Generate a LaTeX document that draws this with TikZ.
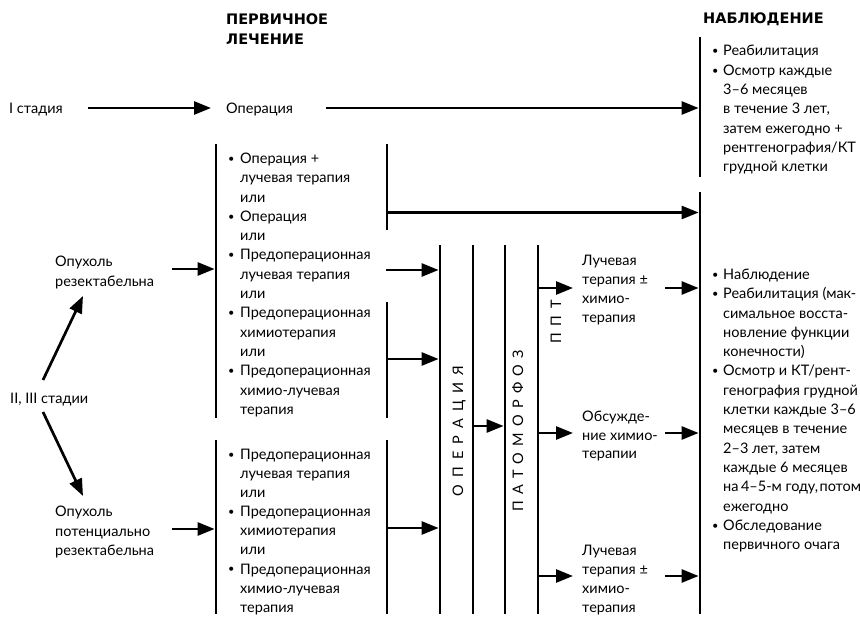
\documentclass[tikz,border=0pt]{standalone}
\usepackage{fontspec}
\setmainfont{Lato}
\newfontfamily\hdfont{DejaVu Sans}
\usetikzlibrary{arrows.meta}
\newcommand\blk[1]{\begin{tabular}[t]{@{}l@{}}#1\end{tabular}}
\newcommand\blist[1]{\begin{tabular}[t]{@{}p{12pt}@{}l@{}}#1\end{tabular}}
\newcommand\rlist[1]{\begin{tabular}[t]{@{}p{11pt}@{}l@{}}#1\end{tabular}}
\newcommand\bul{\raisebox{1.2pt}{\fontsize{11}{11}\selectfont •}}
\newcommand\lsp{\hspace{7pt}}
\newcommand\lspb{\hspace{6.2pt}}
\begin{document}
\begin{tikzpicture}[x=1pt,y=-1pt,
  conn/.style={line width=2.7pt,-{Triangle[length=17pt,width=13pt]}},
  bar/.style={line width=2.7pt,line cap=butt},
  txt/.style={anchor=base west,inner sep=0pt,font=\fontsize{14.5}{19.3}\selectfont},
  hdr/.style={anchor=base west,inner sep=0pt,font=\hdfont\bfseries\fontsize{14.5}{20}\selectfont},
  vlab/.style={anchor=base,rotate=90,inner sep=0pt,font=\fontsize{14.5}{18}\selectfont}]
\useasboundingbox (0,0) rectangle (860,617);
% headers
\node[hdr] (h1) at (226,25) {\blk{ПЕРВИЧНОЕ\\ЛЕЧЕНИЕ}};
\node[hdr] (h2) at (703,24) {НАБЛЮДЕНИЕ};
% left texts
\node[txt] (s1) at (9,114) {I стадия};
\node[txt] (op) at (226,114) {Операция};
\node[txt] (res) at (55,267) {\blk{Опухоль\\резектабельна}};
\node[txt] (s23) at (10,403.5) {II, III стадии};
\node[txt] (pot) at (55,517) {\blk{Опухоль\\потенциально\\резектабельна}};
% primary treatment lists
\node[txt] (L1) at (228,163.5) {\blist{\bul&Операция +\\&лучевая терапия\\&или\\\bul&Операция\\&или\\\bul&Предоперационная\\&лучевая терапия\\&или\\\bul&Предоперационная\\&химиотерапия\\&или\\\bul&Предоперационная\\&химио-лучевая\\&терапия}};
\node[txt,font=\fontsize{14.5}{19.1}\selectfont] (L2) at (228,459.5) {\blist{\bul&Предоперационная\\&лучевая терапия\\&или\\\bul&Предоперационная\\&химиотерапия\\&или\\\bul&Предоперационная\\&химио-лучевая\\&терапия}};
% middle texts
\node[txt,font=\fontsize{14.5}{19}\selectfont] (m1) at (582,265.5) {\blk{Лучевая\\терапия ±\\химио-\\терапия}};
\node[txt,font=\fontsize{14.5}{18.5}\selectfont] (m2) at (582,422) {\blk{Обсужде-\\ние химио-\\терапии}};
\node[txt,font=\fontsize{14.5}{19}\selectfont] (m3) at (582,555.5) {\blk{Лучевая\\терапия ±\\химио-\\терапия}};
% rotated labels
\node[vlab] (opv) at (463,431) {О\lsp П\lsp Е\lsp Р\lsp А\lsp Ц\lsp И\lsp Я};
\node[vlab] (pat) at (523,431) {П\lspb А\lspb Т\lspb О\lspb М\lspb О\lspb Р\lspb Ф\lspb О\lspb З};
\node[vlab] (ppt) at (561,322) {П\lsp П\lsp Т};
% follow-up lists
\node[txt] (R1) at (712,56) {\rlist{\bul&Реабилитация\\\bul&Осмотр каждые\\&3–6 месяцев\\&в течение 3 лет,\\&затем ежегодно +\\&рентгенография/КТ\\&грудной клетки}};
\node[txt] (R2) at (712,279.5) {\rlist{\bul&Наблюдение\\\bul&Реабилитация (мак-\\&симальное восста-\\&новление функции\\&конечности)\\\bul&Осмотр и КТ/рент-\\&генография грудной\\&клетки каждые 3–6\\&месяцев в течение\\&2–3 лет, затем\\&каждые 6 месяцев\\&на\hspace{2.5pt}4–5-м году,\hspace{1.5pt}потом\\&ежегодно\\\bul&Обследование\\&первичного очага}};
% bar coordinates
\coordinate (b1t) at (216,144); \coordinate (b1b) at (216,418);
\coordinate (b1c) at (216,440); \coordinate (b1d) at (216,614);
\coordinate (b2t) at (387,144); \coordinate (b2u) at (387,230);
\coordinate (b2v) at (387,302); \coordinate (b2w) at (387,418);
\coordinate (b2x) at (387,440); \coordinate (b2y) at (387,614);
\coordinate (b3t) at (440,245); \coordinate (b3b) at (440,614);
\coordinate (b4t) at (473,245); \coordinate (b4b) at (473,614);
\coordinate (b5t) at (505,245); \coordinate (b5b) at (505,614);
\coordinate (b6t) at (538,245); \coordinate (b6b) at (538,614);
\coordinate (b7t) at (700,37); \coordinate (b7u) at (700,177);
\coordinate (b7v) at (700,192); \coordinate (b7b) at (700,614);
\foreach \p/\q in {b1t/b1b,b1c/b1d,b2t/b2u,b2v/b2w,b2x/b2y,b3t/b3b,b4t/b4b,b5t/b5b,b6t/b6b,b7t/b7u,b7v/b7b}
  \draw[bar] (\p) -- (\q);
% arrow coordinates
\coordinate (a1s) at (88,108);   \coordinate (a1e) at (211,108);
\coordinate (a2s) at (326,108);  \coordinate (a2e) at (698.6,108);
\coordinate (a3s) at (387,212.5);\coordinate (a3e) at (698.6,212.5);
\coordinate (a4s) at (172,269);  \coordinate (a4e) at (214.6,269);
\coordinate (a5s) at (172,529);  \coordinate (a5e) at (214.6,529);
\coordinate (a6s) at (386,270);  \coordinate (a6e) at (438.6,270);
\coordinate (a7s) at (387,359);  \coordinate (a7e) at (438.6,359);
\coordinate (a8s) at (387,528);  \coordinate (a8e) at (438.6,528);
\coordinate (a9s) at (473,426);  \coordinate (a9e) at (503.6,426);
\coordinate (a10s) at (538,288); \coordinate (a10e) at (573,288);
\coordinate (a11s) at (665,288); \coordinate (a11e) at (698.6,288);
\coordinate (a12s) at (538,433); \coordinate (a12e) at (573,433);
\coordinate (a13s) at (665,433); \coordinate (a13e) at (698.6,433);
\coordinate (a14s) at (538,576); \coordinate (a14e) at (573,576);
\coordinate (a15s) at (665,576); \coordinate (a15e) at (698.6,576);
\coordinate (d1s) at (43,380);   \coordinate (d1e) at (83,296);
\coordinate (d2s) at (43,412);   \coordinate (d2e) at (83,496);
\foreach \a in {a1,a2,a3,a4,a5,a6,a7,a8,a9,a10,a11,a12,a13,a14,a15,d1,d2}
  \draw[conn] (\a s) -- (\a e);
\end{tikzpicture}
\end{document}
